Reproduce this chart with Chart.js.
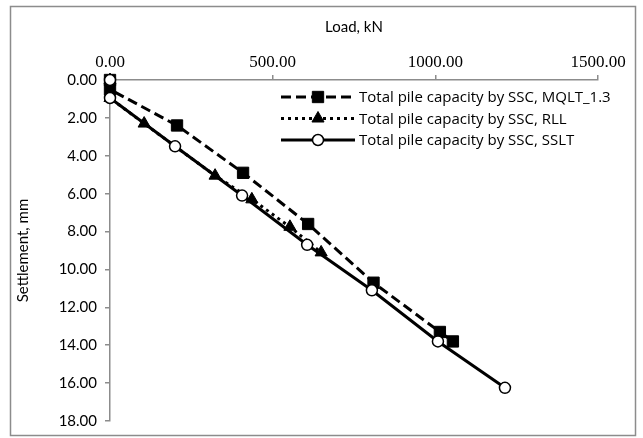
<!DOCTYPE html>
<html>
<head>
<meta charset="utf-8">
<script src="https://cdn.jsdelivr.net/npm/chart.js@4"></script>
<style>
  body { margin: 0; background: #fff; }
  #c { display: block; }
</style>
</head>
<body>
<canvas id="c" width="643" height="438"></canvas>
<script>
// data (load kN, settlement mm)
const seriesNames = [
  "Total pile capacity by SSC, MQLT_1.3",
  "Total pile capacity by SSC, RLL",
  "Total pile capacity by SSC, SSLT",
];
const mqltLoad = [0, 0, 206, 409, 609, 810, 1014, 1054];
const mqltSettle = [0, 0.5, 2.4, 4.9, 7.6, 10.7, 13.3, 13.8];
const rllLoad = [0, 0, 105, 323, 436, 553, 649];
const rllSettle = [0, 0.95, 2.3, 5.05, 6.3, 7.75, 9.1];
const ssltLoad = [0, 0, 200, 406, 606, 805, 1008, 1214];
const ssltSettle = [0, 0.95, 3.5, 6.1, 8.7, 11.1, 13.8, 16.25];
const xTicks = [0, 500, 1000, 1500];
const yTicks = [0, 2, 4, 6, 8, 10, 12, 14, 16, 18];

const pts = (xs, ys) => xs.map((x, i) => ({ x: x, y: ys[i] }));

// outer frame
const frame = {
  id: "frame",
  beforeDraw(chart) {
    const ctx = chart.ctx;
    ctx.save();
    ctx.fillStyle = "#fff";
    ctx.fillRect(0, 0, chart.width, chart.height);
    ctx.strokeStyle = "#8c8c8c";
    ctx.lineWidth = 1.5;
    ctx.strokeRect(10.5, 6.5, 625, 429);
    ctx.restore();
  },
};

// legend inside the plot, like excel
const legendInside = {
  id: "legendInside",
  afterDraw(chart) {
    const ctx = chart.ctx;
    chart.data.datasets.forEach((ds, i) => {
      const y = 97 + i * 21.5;
      ctx.save();
      ctx.strokeStyle = "#000";
      ctx.lineWidth = ds.borderWidth;
      ctx.lineCap = "butt";
      ctx.setLineDash(ds.borderDash || []);
      ctx.beginPath();
      ctx.moveTo(281, y);
      ctx.lineTo(355, y);
      ctx.stroke();
      ctx.setLineDash([]);
      ctx.fillStyle = ds.pointBackgroundColor;
      ctx.strokeStyle = "#000";
      ctx.lineWidth = ds.pointBorderWidth;
      Chart.helpers.drawPoint(ctx, { pointStyle: ds.pointStyle, radius: ds.pointRadius, borderWidth: ds.pointBorderWidth }, 318, y);
      ctx.fillStyle = "#000";
      ctx.font = "15px 'Open Sans'";
      ctx.textBaseline = "middle";
      ctx.fillText(ds.label, 359, y + 1);
      ctx.restore();
    });
  },
};

new Chart(document.getElementById("c"), {
  type: "scatter",
  data: {
    datasets: [
      {
        label: seriesNames[0],
        data: pts(mqltLoad, mqltSettle),
        showLine: true,
        clip: false,
        borderColor: "#000",
        borderWidth: 3,
        borderDash: [10, 5],
        pointStyle: "rect",
        pointRadius: 8,
        pointBackgroundColor: "#000",
        pointBorderColor: "#000",
        pointBorderWidth: 1,
        order: 2,
      },
      {
        label: seriesNames[1],
        data: pts(rllLoad, rllSettle),
        showLine: true,
        clip: false,
        borderColor: "#000",
        borderWidth: 3,
        borderDash: [3, 4],
        pointStyle: "triangle",
        pointRadius: 7,
        pointBackgroundColor: "#000",
        pointBorderColor: "#000",
        pointBorderWidth: 1,
        order: 1,
      },
      {
        label: seriesNames[2],
        data: pts(ssltLoad, ssltSettle),
        showLine: true,
        clip: false,
        borderColor: "#000",
        borderWidth: 3,
        pointStyle: "circle",
        pointRadius: 5.5,
        pointBackgroundColor: "#fff",
        pointBorderColor: "#000",
        pointBorderWidth: 1.5,
        order: 0,
      },
    ],
  },
  options: {
    responsive: false,
    animation: false,
    layout: { padding: { left: 10, right: 45, top: 6, bottom: 16 } },
    plugins: { legend: { display: false }, tooltip: { enabled: false } },
    scales: {
      x: {
        type: "linear",
        position: "top",
        min: 0,
        max: 1500,
        afterBuildTicks: (s) => { s.ticks = xTicks.map((v) => ({ value: v })); },
        afterFit: (s) => { s.height = 74; },
        ticks: {
          color: "#000",
          font: { family: "Liberation Serif", size: 17 },
          padding: 2,
          callback: (v) => v.toFixed(2),
        },
        grid: { drawOnChartArea: false, drawTicks: true, tickLength: 5, color: "#8c8c8c", lineWidth: 1.5 },
        border: { color: "#8c8c8c", width: 1.5 },
        title: {
          display: true,
          text: "Load, kN",
          color: "#000",
          font: { family: "Lato", size: 15 },
          padding: { top: 12, bottom: 4 },
        },
      },
      y: {
        type: "linear",
        reverse: true,
        min: 0,
        max: 18,
        afterBuildTicks: (s) => { s.ticks = yTicks.map((v) => ({ value: v })); },
        afterFit: (s) => { s.width = 100; },
        ticks: {
          color: "#000",
          font: { family: "Lato", size: 15 },
          padding: 8,
          callback: (v) => v.toFixed(2),
        },
        grid: { drawOnChartArea: false, drawTicks: true, tickLength: 5, color: "#8c8c8c", lineWidth: 1.5 },
        border: { color: "#8c8c8c", width: 1.5 },
        title: {
          display: true,
          text: "Settlement, mm",
          color: "#000",
          font: { family: "Lato", size: 15 },
          padding: { top: 4, bottom: 0 },
        },
      },
    },
  },
  plugins: [frame, legendInside],
});
</script>
</body>
</html>
